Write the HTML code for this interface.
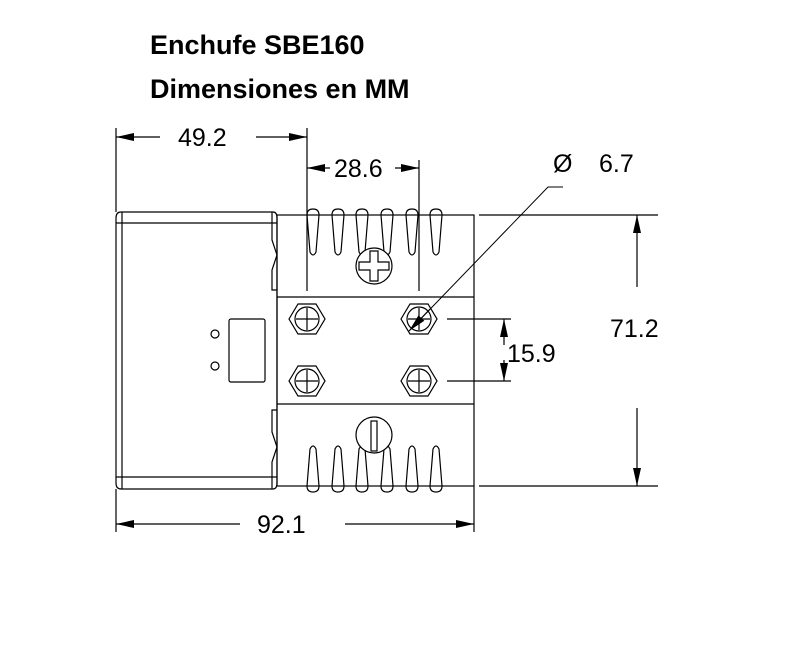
<!DOCTYPE html>
<html><head><meta charset="utf-8"><style>
html,body{margin:0;padding:0;background:#fff}
svg{display:block}
</style></head><body>
<svg width="796" height="648" viewBox="0 0 796 648" xmlns="http://www.w3.org/2000/svg">
<defs>
<marker id="ar" viewBox="0 0 18 8" refX="18" refY="4" markerWidth="18" markerHeight="8" markerUnits="userSpaceOnUse" orient="auto-start-reverse"><path d="M0,0L18,4L0,8z" fill="#000"/></marker>
</defs>
<text x="150" y="54" font-family="Liberation Sans, sans-serif" font-weight="bold" font-size="27" fill="#000">Enchufe SBE160</text>
<text x="150" y="98" font-family="Liberation Sans, sans-serif" font-weight="bold" font-size="27" fill="#000">Dimensiones en MM</text>
<g fill="none" stroke="#000" stroke-width="1.2">
<path d="M121,212 H273 Q277,212 277,218 V483 Q277,489 273,489 H121 Q116,489 116,483 V218 Q116,212 121,212 Z"/>
<line x1="122" y1="212" x2="122" y2="489"/>
<line x1="116" y1="223" x2="277" y2="223"/>
<line x1="116" y1="477" x2="277" y2="477"/>
<path d="M272,212 V240 L277,255 L272,270 V290 H277"/>
<path d="M272,489 V462 L277,447 L272,432 V410 H277"/>
<rect x="229" y="319" width="36" height="63" rx="2"/>
<circle cx="215" cy="334" r="4"/>
<circle cx="215" cy="366" r="4"/>
<rect x="277" y="215" width="197" height="271"/>
<line x1="277" y1="297" x2="474" y2="297"/>
<line x1="277" y1="404" x2="474" y2="404"/>
<line x1="307" y1="128" x2="307" y2="291"/>
<line x1="419" y1="160" x2="419" y2="291"/>
<g id="fins">
<path d="M307,215 Q307,209 313,209 Q319,209 319,215 L316,252 Q313,258 310,252 Z"/>
<path d="M332,215 Q332,209 338,209 Q344,209 344,215 L341,252 Q338,258 335,252 Z"/>
<path d="M356,215 Q356,209 362,209 Q368,209 368,215 L365,252 Q362,258 359,252 Z"/>
<path d="M381,215 Q381,209 387,209 Q393,209 393,215 L390,252 Q387,258 384,252 Z"/>
<path d="M406,215 Q406,209 412,209 Q418,209 418,215 L415,252 Q412,258 409,252 Z"/>
<path d="M430,215 Q430,209 436,209 Q442,209 442,215 L439,252 Q436,258 433,252 Z"/>
</g>
<use href="#fins" transform="translate(0,701) scale(1,-1)"/>
<circle cx="374" cy="266" r="18" fill="#fff"/>
<path d="M370,251 H378 V262 H389 V270 H378 V281 H370 V270 H359 V262 H370 Z"/>
<circle cx="374" cy="435" r="18" fill="#fff"/>
<rect x="371" y="421" width="6" height="30"/>
<g id="nut">
<path d="M289,319 L298,304 H316 L325,319 L316,334 H298 Z"/>
<circle cx="307" cy="319" r="12"/>
<line x1="296" y1="319" x2="318" y2="319"/>
<line x1="307" y1="308" x2="307" y2="330"/>
</g>
<use href="#nut" transform="translate(112,0)"/>
<use href="#nut" transform="translate(0,62)"/>
<use href="#nut" transform="translate(112,62)"/>
<line x1="116" y1="128" x2="116" y2="212"/>
<line x1="116" y1="137" x2="160" y2="137" marker-start="url(#ar)"/>
<line x1="256" y1="137" x2="307" y2="137" marker-end="url(#ar)"/>
<line x1="307" y1="168" x2="330" y2="168" marker-start="url(#ar)"/>
<line x1="395" y1="168" x2="419" y2="168" marker-end="url(#ar)"/>
<line x1="116" y1="489" x2="116" y2="532"/>
<line x1="474" y1="486" x2="474" y2="532"/>
<line x1="116" y1="524" x2="240" y2="524" marker-start="url(#ar)"/>
<line x1="345" y1="524" x2="474" y2="524" marker-end="url(#ar)"/>
<line x1="479" y1="215" x2="658" y2="215"/>
<line x1="479" y1="486" x2="658" y2="486"/>
<line x1="637" y1="287" x2="637" y2="215" marker-end="url(#ar)"/>
<line x1="637" y1="408" x2="637" y2="486" marker-end="url(#ar)"/>
<line x1="447" y1="319" x2="511" y2="319"/>
<line x1="447" y1="381" x2="511" y2="381"/>
<line x1="504" y1="345" x2="504" y2="319" marker-end="url(#ar)"/>
<line x1="504" y1="360" x2="504" y2="381" marker-end="url(#ar)"/>
<path d="M563,187 H548 L409,331" stroke-width="1"/>
<line x1="430" y1="309" x2="409" y2="331" marker-end="url(#ar)" stroke-width="1"/>
</g>
<g font-family="Liberation Sans, sans-serif" font-size="25" fill="#000">
<text x="178" y="146">49.2</text>
<text x="334" y="177">28.6</text>
<text x="553" y="172">Ø</text>
<text x="599" y="172">6.7</text>
<text x="610" y="337">71.2</text>
<text x="507" y="362">15.9</text>
<text x="257" y="533">92.1</text>
</g>
</svg>
</body></html>
